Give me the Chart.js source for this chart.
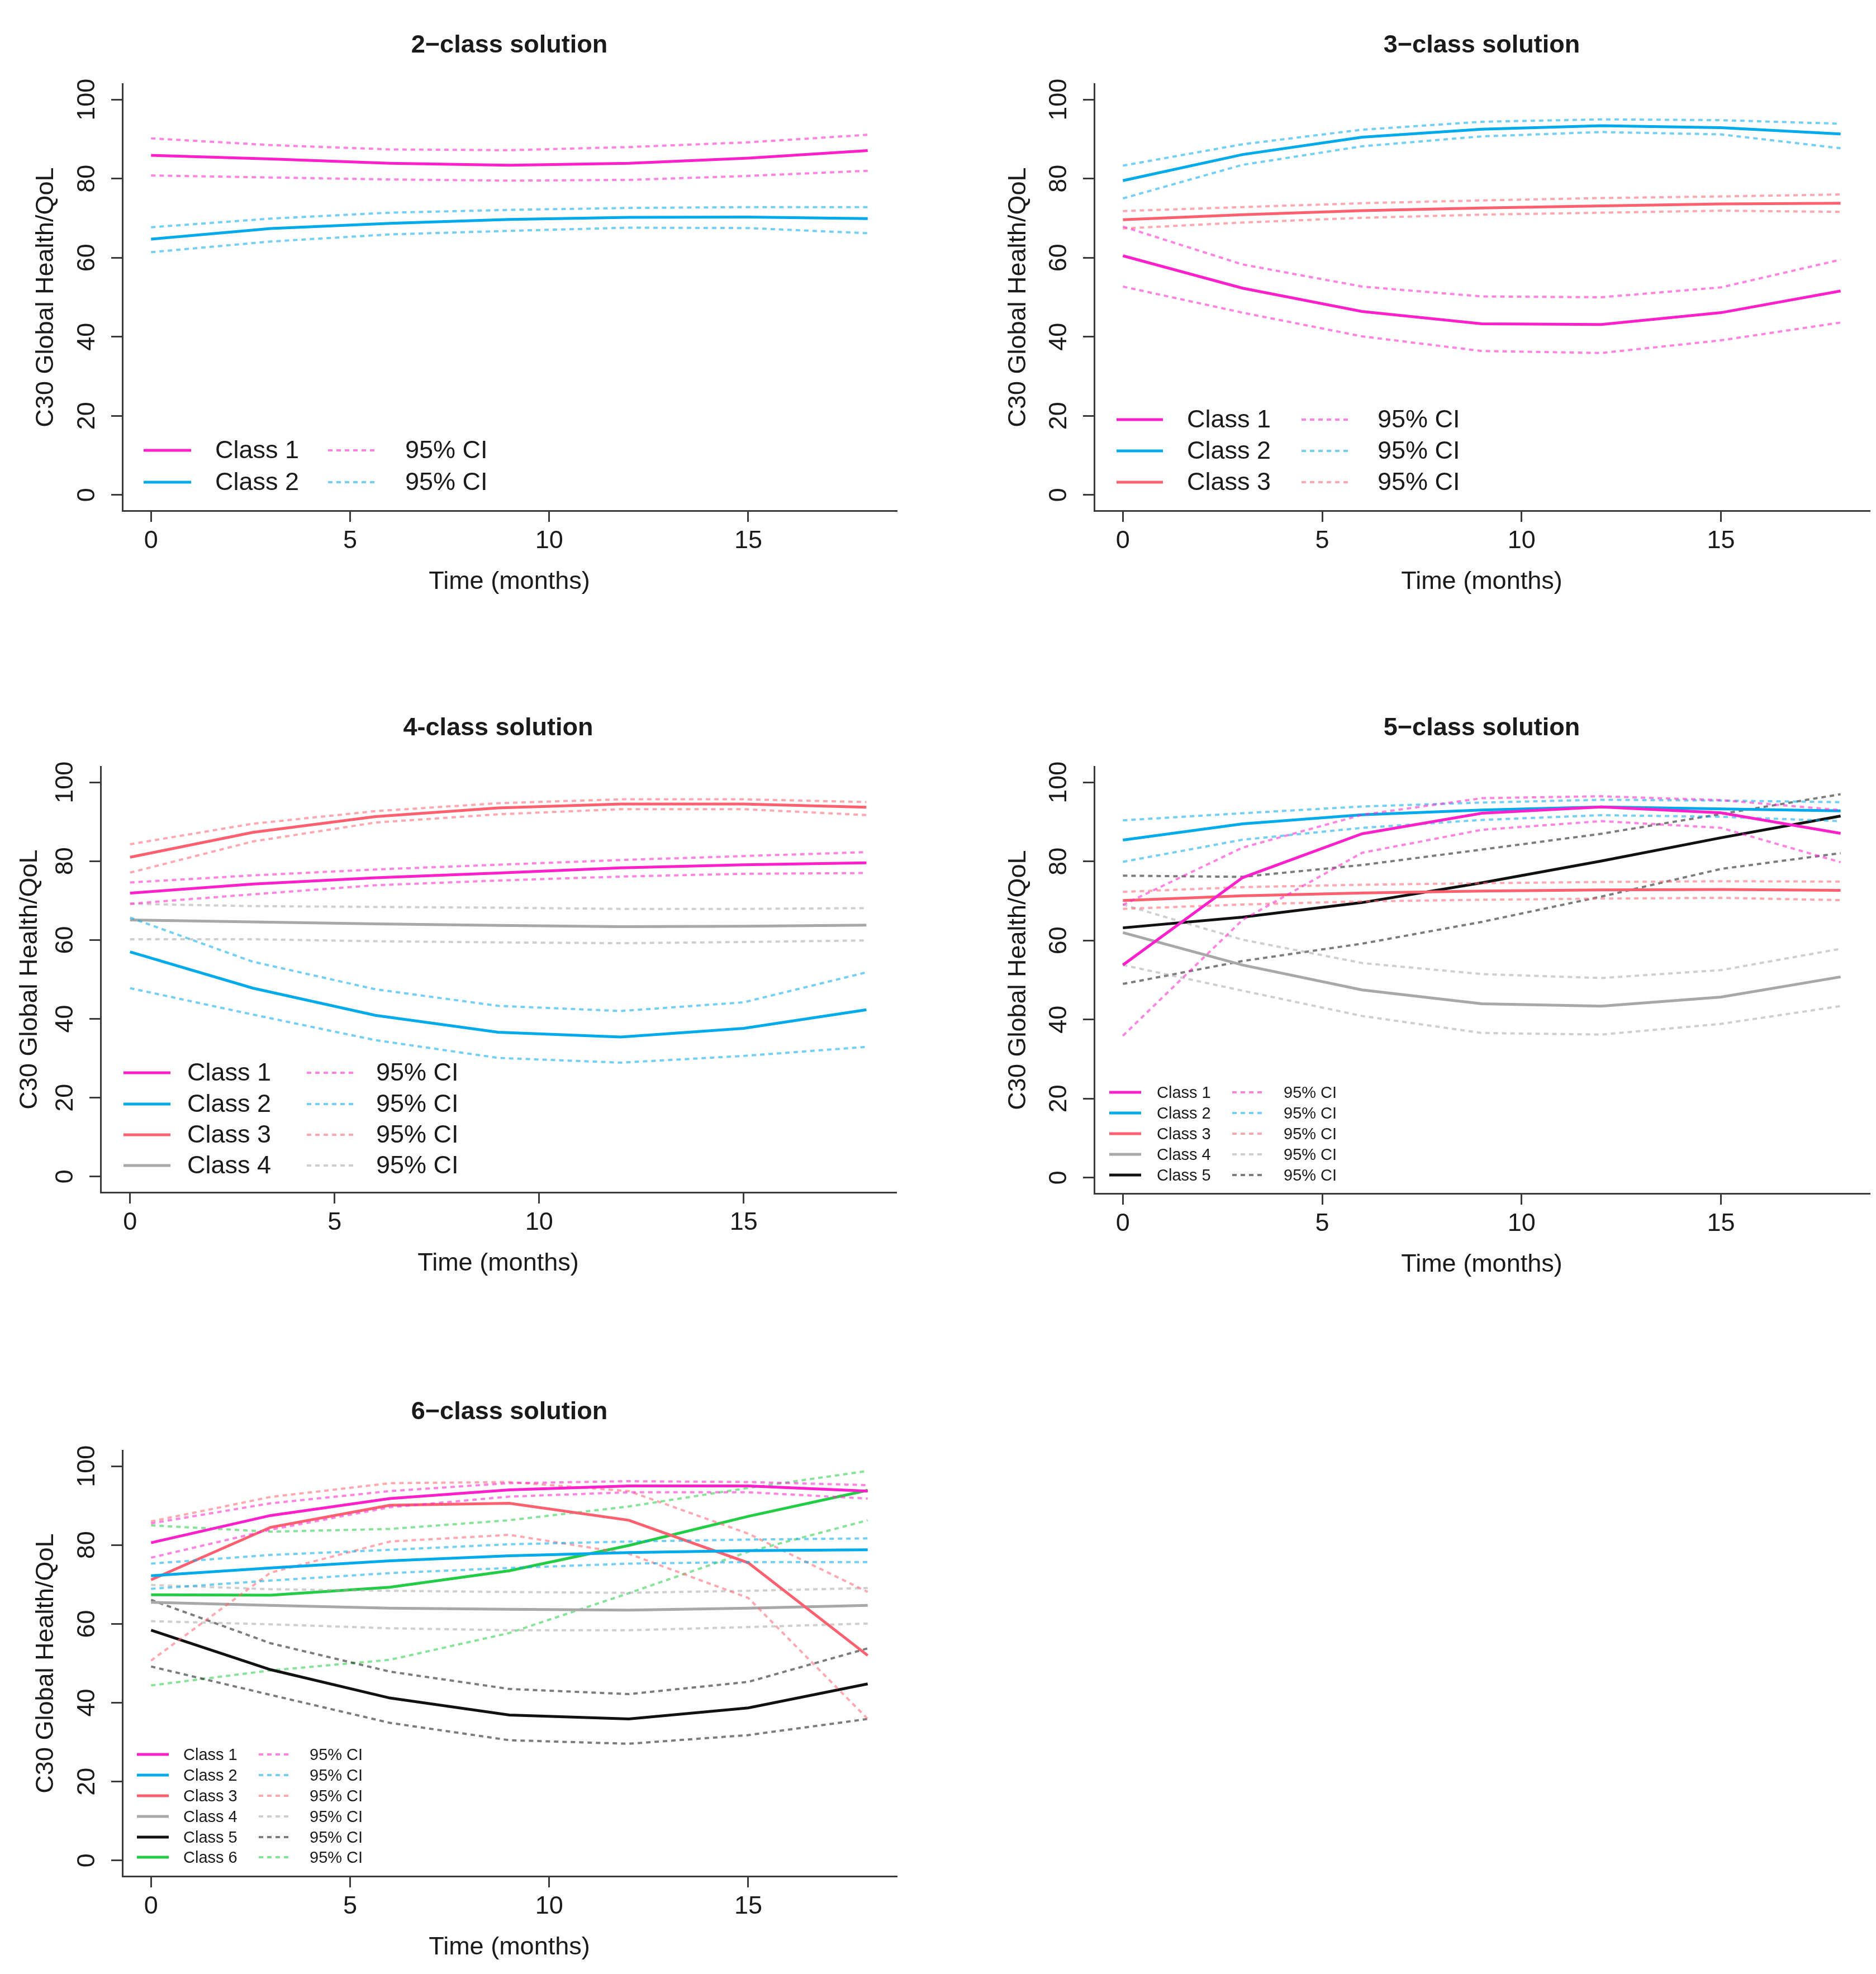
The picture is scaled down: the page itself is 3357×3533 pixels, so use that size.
<!DOCTYPE html>
<html>
<head>
<meta charset="utf-8">
<script src="https://cdn.jsdelivr.net/npm/chart.js@4.4.1/dist/chart.umd.min.js"></script>
<style>
  body { margin: 0; background: #fff; width: 3357px; height: 3533px; position: relative; overflow: hidden; }
  canvas { position: absolute; }
</style>
</head>
<body>
<canvas id="p2"></canvas>
<canvas id="p3"></canvas>
<canvas id="p4"></canvas>
<canvas id="p5"></canvas>
<canvas id="p6"></canvas>
<script>
// time points (months) and axis ticks
const months = [0, 3, 6, 9, 12, 15, 18];
const xTicks = [0, 5, 10, 15];
const yTicks = [0, 20, 40, 60, 80, 100];
const classColors = ["#ff1fcb", "#00aaeb", "#ff6070", "#a8a8a8", "#111111", "#22cc44"];

// 2-class solution
const sol2Mean = [
  [85.9, 85.0, 83.9, 83.4, 83.9, 85.2, 87.1],
  [64.7, 67.4, 68.7, 69.7, 70.2, 70.3, 69.9]
];
const sol2Upper = [
  [90.2, 88.5, 87.4, 87.2, 88.0, 89.2, 91.1],
  [67.7, 69.9, 71.4, 72.1, 72.6, 72.8, 72.8]
];
const sol2Lower = [
  [80.8, 80.3, 79.8, 79.5, 79.7, 80.7, 82.0],
  [61.4, 64.1, 65.9, 66.8, 67.6, 67.5, 66.2]
];

// 3-class solution
const sol3Mean = [
  [60.5, 52.3, 46.4, 43.3, 43.1, 46.1, 51.6],
  [79.5, 86.1, 90.5, 92.5, 93.4, 92.9, 91.3],
  [69.6, 70.9, 71.9, 72.6, 73.1, 73.6, 73.8]
];
const sol3Upper = [
  [67.9, 58.3, 52.7, 50.2, 50.0, 52.5, 59.5],
  [83.3, 88.7, 92.4, 94.4, 95.0, 94.8, 93.9],
  [71.8, 72.8, 73.8, 74.5, 75.1, 75.5, 76.0]
];
const sol3Lower = [
  [52.7, 46.1, 40.1, 36.4, 35.9, 39.1, 43.6],
  [75.0, 83.5, 88.2, 90.7, 91.8, 91.2, 87.7],
  [67.4, 68.9, 70.1, 70.9, 71.4, 71.9, 71.6]
];

// 4-class solution
const sol4Mean = [
  [71.9, 74.2, 75.8, 77.0, 78.3, 79.1, 79.6],
  [57.0, 47.8, 40.9, 36.6, 35.4, 37.6, 42.3],
  [81.0, 87.3, 91.3, 93.5, 94.5, 94.5, 93.7],
  [65.1, 64.6, 64.1, 63.7, 63.4, 63.5, 63.8]
];
const sol4Upper = [
  [74.6, 76.4, 77.9, 79.1, 80.3, 81.3, 82.3],
  [65.7, 54.5, 47.5, 43.3, 42.0, 44.2, 51.8],
  [84.3, 89.5, 92.7, 94.7, 95.7, 95.7, 95.0],
  [69.2, 68.6, 68.4, 68.2, 67.9, 67.9, 68.1]
];
const sol4Lower = [
  [69.2, 71.6, 73.9, 75.1, 76.1, 76.8, 77.0],
  [47.8, 41.1, 34.6, 30.1, 28.9, 30.6, 32.9],
  [77.1, 85.0, 89.8, 91.9, 93.2, 93.2, 91.7],
  [60.2, 60.2, 59.7, 59.4, 59.2, 59.5, 59.9]
];

// 5-class solution
const sol5Mean = [
  [53.8, 75.9, 87.0, 92.2, 93.8, 92.3, 87.1],
  [85.4, 89.5, 91.8, 93.0, 93.8, 93.3, 92.8],
  [70.1, 71.3, 72.0, 72.5, 72.8, 72.9, 72.7],
  [62.0, 53.8, 47.5, 44.0, 43.4, 45.7, 50.8],
  [63.2, 65.9, 69.6, 74.6, 80.1, 86.0, 91.5]
];
const sol5Upper = [
  [69.0, 83.5, 91.8, 96.0, 96.5, 95.5, 93.0],
  [90.4, 92.2, 93.9, 94.9, 95.6, 95.4, 95.0],
  [72.3, 73.5, 74.1, 74.5, 74.8, 75.0, 74.9],
  [69.1, 60.2, 54.3, 51.5, 50.5, 52.5, 57.9],
  [76.4, 76.1, 79.1, 83.0, 87.0, 92.0, 97.0]
];
const sol5Lower = [
  [35.9, 65.2, 82.2, 88.0, 90.2, 88.5, 79.8],
  [79.9, 85.5, 88.5, 90.5, 91.7, 91.3, 90.2],
  [68.0, 69.1, 69.9, 70.3, 70.6, 70.8, 70.2],
  [53.8, 47.3, 40.9, 36.6, 36.2, 38.9, 43.4],
  [49.0, 54.8, 59.2, 64.7, 71.1, 78.1, 82.1]
];

// 6-class solution
const sol6Mean = [
  [80.6, 87.5, 91.8, 94.0, 95.0, 95.0, 93.7],
  [72.2, 74.2, 76.0, 77.3, 78.1, 78.6, 78.8],
  [71.2, 84.5, 90.1, 90.6, 86.3, 75.5, 52.0],
  [65.5, 64.7, 64.0, 63.7, 63.5, 64.0, 64.7],
  [58.4, 48.4, 41.2, 36.9, 35.9, 38.7, 44.8],
  [67.4, 67.3, 69.3, 73.5, 79.9, 87.3, 93.9]
];
const sol6Upper = [
  [85.5, 90.6, 93.7, 95.7, 96.2, 96.0, 95.2],
  [75.3, 77.5, 78.8, 80.2, 80.9, 81.4, 81.7],
  [86.0, 92.2, 95.7, 96.0, 93.7, 82.9, 68.1],
  [69.9, 68.8, 68.4, 68.1, 67.9, 68.4, 69.1],
  [66.1, 55.1, 47.9, 43.5, 42.2, 45.3, 53.8],
  [85.0, 83.4, 84.1, 86.3, 89.8, 94.5, 98.8]
];
const sol6Lower = [
  [76.8, 83.9, 89.6, 92.3, 93.4, 93.4, 91.8],
  [68.9, 71.0, 72.9, 74.2, 75.3, 75.7, 75.7],
  [50.7, 73.0, 80.9, 82.6, 77.8, 66.6, 35.9],
  [60.7, 59.9, 58.9, 58.4, 58.4, 59.2, 60.1],
  [49.2, 42.0, 34.9, 30.5, 29.6, 31.8, 35.9],
  [44.4, 48.2, 50.9, 57.7, 67.8, 78.3, 86.3]
];

const FONT = '"Liberation Sans", Arial, sans-serif';
Chart.defaults.font.family = FONT;

// where each panel sits on the page (page pixels)
const panels = [
  { id: "p2", title: "2\u2212class solution", mean: sol2Mean, upper: sol2Upper, lower: sol2Lower,
    canvas: [0, 0, 1680, 1120], area: [219, 150, 1604, 914], yTitleGap: 136,
    legend: { rows: [806, 863], solid: [257, 342], text: 385, dash: [587, 672], ciText: 725, font: 45 } },
  { id: "p3", title: "3\u2212class solution", mean: sol3Mean, upper: sol3Upper, lower: sol3Lower,
    canvas: [1700, 0, 1657, 1120], area: [1958, 150, 3345, 914], yTitleGap: 135,
    legend: { rows: [751, 807, 863], solid: [1998, 2081], text: 2124, dash: [2329, 2413], ciText: 2465, font: 45 } },
  { id: "p4", title: "4-class solution", mean: sol4Mean, upper: sol4Upper, lower: sol4Lower,
    canvas: [0, 1200, 1680, 1120], area: [180, 1372, 1603, 2134], yTitleGap: 126,
    legend: { rows: [1920, 1976, 2031, 2086], solid: [221, 305], text: 335, dash: [549, 633], ciText: 673, font: 45 } },
  { id: "p5", title: "5\u2212class solution", mean: sol5Mean, upper: sol5Upper, lower: sol5Lower,
    canvas: [1700, 1200, 1657, 1120], area: [1958, 1372, 3345, 2136], yTitleGap: 135,
    legend: { rows: [1955, 1992, 2029, 2066, 2103], solid: [1985, 2042], text: 2070, dash: [2205, 2258], ciText: 2297, font: 29 } },
  { id: "p6", title: "6\u2212class solution", mean: sol6Mean, upper: sol6Upper, lower: sol6Lower,
    canvas: [0, 2420, 1680, 1113], area: [219, 2596, 1604, 3358], yTitleGap: 136,
    legend: { rows: [3140, 3177, 3214, 3251, 3288, 3324], solid: [245, 302], text: 328, dash: [463, 518], ciText: 554, font: 29 } }
];

const TICK_LEN = 20;
const CI_DASH = [8, 7];
const TEXT_NUDGE = 5; // baseline correction for horizontal text

function fade(hex, a) {
  const n = parseInt(hex.slice(1), 16);
  return `rgba(${(n >> 16) & 255}, ${(n >> 8) & 255}, ${n & 255}, ${a})`;
}

function toPoints(values) {
  return months.map((m, i) => ({ x: m, y: values[i] }));
}

// titles, tick labels, axis titles and legend, R style
const rText = {
  id: "rText",
  afterDraw(chart, args, opts) {
    const { ctx, chartArea: a, scales: { x, y } } = chart;
    const ox = opts.ox, oy = opts.oy;
    const cx = (a.left + a.right) / 2;
    ctx.save();
    ctx.fillStyle = "#1a1a1a";
    ctx.textAlign = "center";
    ctx.textBaseline = "middle";

    ctx.font = `bold 45px ${FONT}`;
    ctx.fillText(opts.title, cx, a.top - 75 + TEXT_NUDGE + 2);

    ctx.font = `45px ${FONT}`;
    x.ticks.forEach(t => ctx.fillText(String(t.value), x.getPixelForValue(t.value), a.bottom + 50 + TEXT_NUDGE));
    ctx.fillText("Time (months)", cx, a.bottom + 123 + TEXT_NUDGE);

    y.ticks.forEach(t => {
      ctx.save();
      ctx.translate(a.left - 62, y.getPixelForValue(t.value));
      ctx.rotate(-Math.PI / 2);
      ctx.fillText(String(t.value), 0, 0);
      ctx.restore();
    });
    ctx.save();
    ctx.translate(a.left - opts.yTitleGap, (a.top + a.bottom) / 2);
    ctx.rotate(-Math.PI / 2);
    ctx.fillText("C30 Global Health/QoL", 0, 0);
    ctx.restore();

    // legend
    const lg = opts.legend;
    ctx.font = `${lg.font}px ${FONT}`;
    ctx.textAlign = "left";
    lg.rows.forEach((ry, k) => {
      const yy = ry - oy;
      const col = classColors[k];
      ctx.setLineDash([]);
      ctx.strokeStyle = col;
      ctx.lineWidth = 5;
      ctx.beginPath();
      ctx.moveTo(lg.solid[0] - ox, yy);
      ctx.lineTo(lg.solid[1] - ox, yy);
      ctx.stroke();
      ctx.fillText("Class " + (k + 1), lg.text - ox, yy + 2);

      ctx.setLineDash(CI_DASH);
      ctx.strokeStyle = fade(col, 0.55);
      ctx.lineWidth = 4;
      ctx.beginPath();
      ctx.moveTo(lg.dash[0] - ox, yy);
      ctx.lineTo(lg.dash[1] - ox, yy);
      ctx.stroke();
      ctx.fillText("95% CI", lg.ciText - ox, yy + 2);
    });
    ctx.restore();
  }
};

function axisOptions(min, max, ticks) {
  return {
    type: "linear",
    min: min,
    max: max,
    afterBuildTicks: s => { s.ticks = ticks.map(v => ({ value: v })); },
    ticks: { display: false },
    grid: { display: true, drawOnChartArea: false, drawTicks: true, tickLength: TICK_LEN, color: "#3a3a3a", lineWidth: 3 },
    border: { display: true, color: "#3a3a3a", width: 3 }
  };
}

panels.forEach(p => {
  const [cl, ct, cw, ch] = p.canvas;
  const [al, at, ar, ab] = p.area;
  const cv = document.getElementById(p.id);
  cv.width = cw;
  cv.height = ch;
  cv.style.left = cl + "px";
  cv.style.top = ct + "px";

  const datasets = [];
  p.mean.forEach((vals, k) => {
    const col = classColors[k];
    datasets.push({ data: toPoints(p.upper[k]), borderColor: fade(col, 0.55), borderWidth: 4, borderDash: CI_DASH });
    datasets.push({ data: toPoints(p.lower[k]), borderColor: fade(col, 0.55), borderWidth: 4, borderDash: CI_DASH });
    datasets.push({ data: toPoints(vals), borderColor: col, borderWidth: 5 });
  });

  new Chart(cv, {
    type: "line",
    data: { datasets },
    options: {
      responsive: false,
      animation: false,
      devicePixelRatio: 1,
      layout: {
        padding: {
          left: al - cl - TICK_LEN,
          top: at - ct,
          right: cl + cw - ar,
          bottom: ct + ch - ab - TICK_LEN
        }
      },
      elements: { point: { radius: 0 }, line: { tension: 0, borderCapStyle: "butt" } },
      plugins: {
        legend: { display: false },
        title: { display: false },
        tooltip: { enabled: false },
        rText: { title: p.title, ox: cl, oy: ct, yTitleGap: p.yTitleGap, legend: p.legend }
      },
      scales: {
        x: axisOptions(-0.72, 18.72, xTicks),
        y: axisOptions(-4, 104, yTicks)
      }
    },
    plugins: [rText]
  });
});
</script>
</body>
</html>
